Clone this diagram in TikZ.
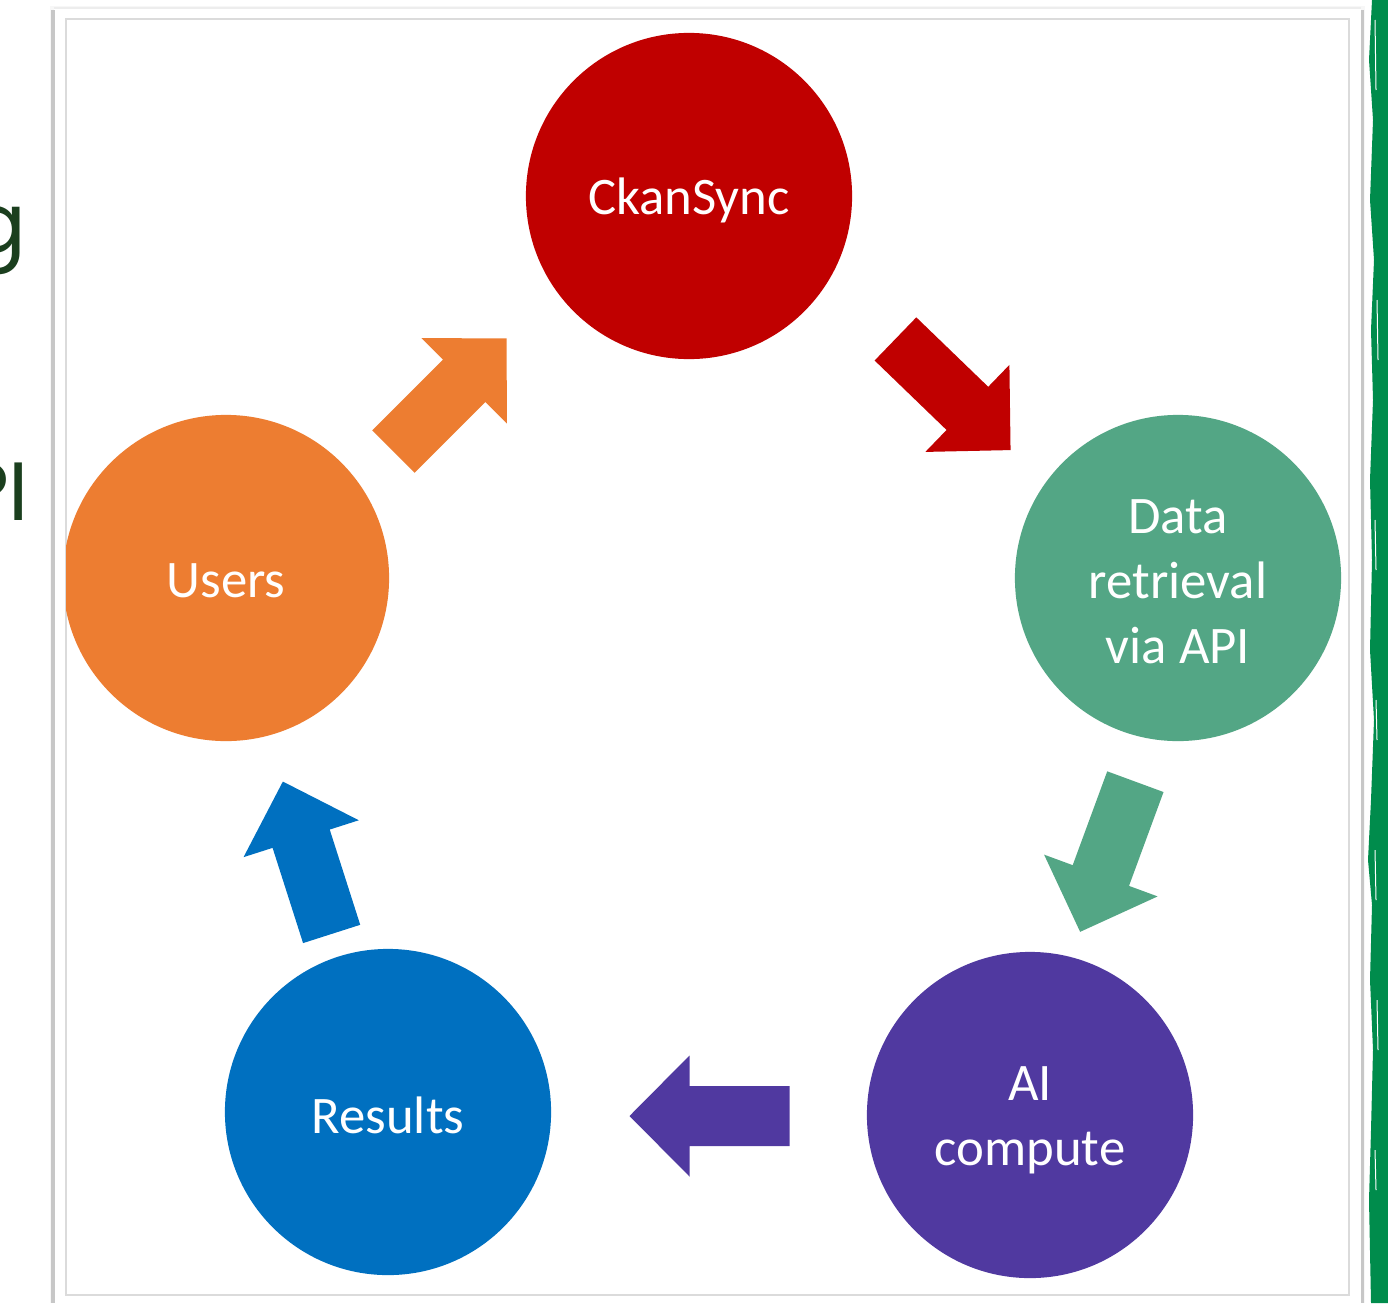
\documentclass[tikz,border=0pt]{standalone}
\usepackage{fontspec}
\setmainfont{Carlito}
\newfontfamily\slidefont{Poppins}
\definecolor{ckanred}{HTML}{C00000}
\definecolor{datagreen}{HTML}{53A685}
\definecolor{aipurple}{HTML}{5039A0}
\definecolor{resblue}{HTML}{0070C0}
\definecolor{userorange}{HTML}{ED7D31}
\definecolor{slidegreen}{HTML}{1B3F1E}
\definecolor{stripegreen}{HTML}{008C4C}
\begin{document}
\begin{tikzpicture}[x=0.01cm,y=-0.01cm,
  circ/.style={circle, inner sep=0pt, minimum size=3.26cm},
  lbl/.style={inner sep=0pt, text=white,
    font=\fontsize{15}{18.5}\selectfont, align=center},
  slidetext/.style={inner sep=0pt, anchor=base east, text=slidegreen,
    font=\slidefont\fontsize{23.5}{28}\selectfont},
  barrow/.pic={\fill[pic actions] (-80,-30) -- (20,-30) -- (20,-60.5) -- (80,0)
     -- (20,60.5) -- (20,30) -- (-80,30) -- cycle;}]
\useasboundingbox (0,0) rectangle (1388,1303);
\clip (0,0) rectangle (1388,1303);
\fill[white] (0,0) rectangle (1388,1303);
% slide text cut off at the left
\node[slidetext] (gtext) at (27,252) {g};
\node[slidetext] (apitext) at (30,520) {API};
% green brush stripe
\fill[stripegreen] (1372,0) -- (1369,60) -- (1373,120) -- (1370,200) -- (1374,260)
  -- (1371,330) -- (1373,400) -- (1370,480) -- (1372,560) -- (1370,650) -- (1374,720)
  -- (1371,800) -- (1368,860) -- (1372,905) -- (1370,980) -- (1373,1050)
  -- (1371,1130) -- (1369,1200) -- (1371,1303) -- (1388,1303) -- (1388,0) -- cycle;
\foreach \xa/\ya/\yb in {1375/20/90, 1377/300/360, 1375/520/570, 1376/700/740,
  1375/850/900, 1377/1000/1050, 1375/1150/1190}
  \draw[white, line width=0.01cm] (\xa,\ya) -- (\xa+1,\yb);
% frame with soft shadow
\fill[black!3] (50,6) rectangle (1365,1303);
\fill[white] (54,9) rectangle (1361,1303);
\draw[black!22, line width=0.03cm] (53,10) -- (53,1303);
\draw[black!22, line width=0.03cm] (1362,10) -- (1362,1303);
\draw[black!7, line width=0.015cm] (54,8) -- (1361,8);
\draw[black!14, line width=0.015cm] (66,19) rectangle (1349,1295);
% diagram
\begin{scope}
\clip (66,19) rectangle (1349,1295);
\node[circ, fill=ckanred] (ckan) at (689,196) {};
\node[circ, fill=datagreen] (data) at (1178,578) {};
\node[circ, fill=aipurple] (ai) at (1030,1115) {};
\node[circ, fill=resblue] (res) at (388,1112) {};
\node[circ, fill=userorange] (users) at (226,578) {};
\end{scope}
\node[lbl] (ckanlbl) at ([yshift=-0.04cm]ckan.center) {CkanSync};
\node[lbl] (datalbl) at ([yshift=-0.04cm]data.center) {Data\\retrieval\\via API};
\node[lbl] (ailbl) at ([yshift=-0.05cm]ai.center) {AI\\compute};
\node[lbl] (reslbl) at ([yshift=-0.03cm]res.center) {Results};
\node[lbl] (userslbl) at ([yshift=-0.03cm]users.center) {Users};
% block arrows
\pic[fill=ckanred, rotate=-44] (a1) at (953,394.5) {barrow};
\pic[fill=datagreen, rotate=-110.2] (a2) at (1107.75,856.75) {barrow};
\pic[fill=aipurple, rotate=180] (a3) at (709.5,1116) {barrow};
\pic[fill=resblue, rotate=107.75] (a4) at (307.25,857.75) {barrow};
\pic[fill=userorange, rotate=45] (a5) at (450,395) {barrow};
\end{tikzpicture}
\end{document}
